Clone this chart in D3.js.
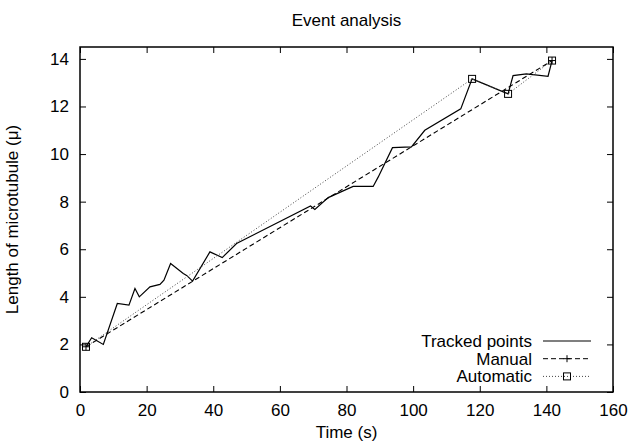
<!DOCTYPE html>
<html>
<head>
<meta charset="utf-8">
<script src="https://cdn.jsdelivr.net/npm/d3@7"></script>
<style>
  body { margin: 0; background: #fff; }
  text { font-family: "Liberation Sans", Arial, Helvetica, sans-serif; fill: #000; }
</style>
</head>
<body>
<div id="chart"></div>
<script>
// tracked microtubule length over time
var trackedT = [1.8, 3.5, 7.0, 11.2, 14.7, 16.5, 17.8, 21.0, 24.0, 25.2, 27.2, 31, 32, 33.8, 39, 42.7, 47,
  69.2, 70.5, 74.5, 82, 88, 89.5, 93.8, 99.5, 103.5, 114.3, 117.7, 128.5, 130, 134, 140.5, 141.7];
var trackedL = [1.9, 2.28, 2.0, 3.72, 3.65, 4.35, 4.0, 4.42, 4.52, 4.7, 5.4, 4.98, 4.9, 4.66, 5.89, 5.65, 6.24,
  7.82, 7.67, 8.17, 8.64, 8.64, 9.03, 10.27, 10.3, 11.0, 11.9, 13.16, 12.53, 13.3, 13.37, 13.27, 13.93];

var manualT = [1.8, 141.7];
var manualL = [1.9, 13.93];

var autoT = [1.8, 117.7, 128.5, 141.7];
var autoL = [1.9, 13.16, 12.53, 13.93];

var xTicks = [0, 20, 40, 60, 80, 100, 120, 140, 160];
var yTicks = [0, 2, 4, 6, 8, 10, 12, 14];

var W = 632, H = 444;
var margin = { top: 47, right: 19, bottom: 52, left: 80 };
var width = W - margin.left - margin.right;
var height = H - margin.top - margin.bottom;
var fs = '17px';

var zip = function(t, l) { return t.map(function(d, i) { return [d, l[i]]; }); };

var xScale = d3.scaleLinear().domain([0, 160]).range([0, width]);
var yScale = d3.scaleLinear().domain([0, 14.5]).range([height, 0]);

var svg = d3.select('#chart')
  .append('svg')
  .attr('width', W)
  .attr('height', H)
  .append('g')
  .attr('transform', 'translate(' + margin.left + ',' + margin.top + ')');

var tickLen = 6;

// bottom / top axes (ticks pointing inward)
svg.append('g')
  .attr('class', 'x-axis')
  .attr('transform', 'translate(0,' + height + ')')
  .call(d3.axisBottom(xScale).tickValues(xTicks).tickSizeInner(-tickLen).tickSizeOuter(0).tickPadding(12));

svg.append('g')
  .attr('class', 'x-axis-top')
  .call(d3.axisTop(xScale).tickValues(xTicks).tickSizeInner(-tickLen).tickSizeOuter(0).tickFormat(''));

svg.append('g')
  .attr('class', 'y-axis')
  .call(d3.axisLeft(yScale).tickValues(yTicks).tickSizeInner(-tickLen).tickSizeOuter(0).tickPadding(11));

svg.append('g')
  .attr('class', 'y-axis-right')
  .attr('transform', 'translate(' + width + ',0)')
  .call(d3.axisRight(yScale).tickValues(yTicks).tickSizeInner(-tickLen).tickSizeOuter(0).tickFormat(''));

svg.selectAll('.domain').remove();
svg.selectAll('.tick line').attr('stroke', '#000').attr('stroke-width', 1);
svg.selectAll('.tick text').attr('font-size', fs).attr('fill', '#000')
  .style('font-family', '"Liberation Sans", Arial, sans-serif');

// frame
svg.append('rect')
  .attr('x', 0).attr('y', 0)
  .attr('width', width).attr('height', height)
  .attr('fill', 'none')
  .attr('stroke', '#000')
  .attr('stroke-width', 1.5);

var line = d3.line()
  .x(function(d) { return xScale(d[0]); })
  .y(function(d) { return yScale(d[1]); });

svg.append('path')
  .datum(zip(trackedT, trackedL))
  .attr('d', line)
  .attr('fill', 'none')
  .attr('stroke', '#000')
  .attr('stroke-width', 1.2);

svg.append('path')
  .datum(zip(manualT, manualL))
  .attr('d', line)
  .attr('fill', 'none')
  .attr('stroke', '#000')
  .attr('stroke-width', 1.1)
  .attr('stroke-dasharray', '5,3');

svg.append('path')
  .datum(zip(autoT, autoL))
  .attr('d', line)
  .attr('fill', 'none')
  .attr('stroke', '#444')
  .attr('stroke-width', 1)
  .attr('stroke-dasharray', '1,2');

var plus = function(g, cx, cy) {
  g.append('path')
    .attr('d', 'M' + (cx - 3.5) + ',' + cy + 'H' + (cx + 3.5) + 'M' + cx + ',' + (cy - 3.5) + 'V' + (cy + 3.5))
    .attr('stroke', '#000').attr('stroke-width', 1).attr('fill', 'none');
};
var square = function(g, cx, cy) {
  g.append('rect')
    .attr('x', cx - 3.5).attr('y', cy - 3.5)
    .attr('width', 7).attr('height', 7)
    .attr('fill', 'none').attr('stroke', '#000').attr('stroke-width', 1);
};

zip(manualT, manualL).forEach(function(d) { plus(svg, xScale(d[0]), yScale(d[1])); });
zip(autoT, autoL).forEach(function(d) { square(svg, xScale(d[0]), yScale(d[1])); });

// legend
var legendItems = ['Tracked points', 'Manual', 'Automatic'];
var legend = svg.append('g').attr('transform', 'translate(0,' + (height - 51) + ')');
legendItems.forEach(function(name, i) {
  var gy = i * 17.7;
  legend.append('text')
    .attr('x', 452).attr('y', gy).attr('dy', '0.35em')
    .attr('text-anchor', 'end')
    .attr('font-size', fs)
    .text(name);
  var ln = legend.append('line')
    .attr('x1', 463).attr('x2', 511)
    .attr('y1', gy).attr('y2', gy)
    .attr('stroke', i === 2 ? '#444' : '#000')
    .attr('stroke-width', i === 0 ? 1.2 : 1);
  if (i === 1) { ln.attr('stroke-dasharray', '5,3'); plus(legend, 487, gy); }
  if (i === 2) { ln.attr('stroke-dasharray', '1,2'); square(legend, 487, gy); }
});

// titles
svg.append('text')
  .attr('x', width / 2).attr('y', -21)
  .attr('text-anchor', 'middle')
  .attr('font-size', fs)
  .text('Event analysis');

svg.append('text')
  .attr('x', width / 2).attr('y', height + 46)
  .attr('text-anchor', 'middle')
  .attr('font-size', fs)
  .text('Time (s)');

svg.append('text')
  .attr('transform', 'translate(' + (-62) + ',' + (height / 2) + ') rotate(-90)')
  .attr('text-anchor', 'middle')
  .attr('font-size', fs)
  .text('Length of microtubule (μ)');
</script>
</body>
</html>
